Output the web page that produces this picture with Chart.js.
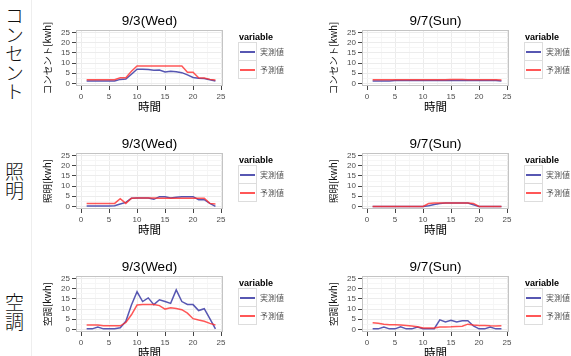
<!DOCTYPE html>
<html>
<head>
<meta charset="utf-8">
<script src="https://cdn.jsdelivr.net/npm/chart.js@4.4.1/dist/chart.umd.min.js"></script>
<style>
  html, body { margin: 0; padding: 0; background: #fff; overflow: hidden; }
  body { width: 571px; height: 356px; position: relative; font-family: "Liberation Sans", Arial, "Noto Sans CJK JP", sans-serif; }
  .sep { position: absolute; left: 31px; top: 0; width: 1px; height: 356px; background: #eeeeee; }
  .rowlabel { position: absolute; left: 4px; width: 20px; writing-mode: vertical-rl; font-family: "Noto Sans CJK JP", sans-serif; font-weight: 300; font-size: 19px; line-height: 20px; color: #111; }
  .panel { position: absolute; width: 250px; height: 123px; }
  .panel canvas { position: absolute; left: 0; top: 0; }
  .legend { position: absolute; left: 203px; top: 32px; }
  .legend .ttl { font: bold 9px "Liberation Sans", Arial, sans-serif; height: 11px; line-height: 11px; margin-left: 1px; color: #000; }
  .legend .item { display: flex; align-items: center; height: 19px; margin-top: -1px; }
  .legend .item:first-of-type { margin-top: 0; }
  .legend .key { width: 19px; height: 19px; box-sizing: border-box; border: 1px solid #dddddd; position: relative; }
  .legend .key span { position: absolute; left: 1px; top: 7.5px; width: 15px; height: 2px; }
  .legend .lbl { margin-left: 3px; font-family: "Noto Sans CJK JP", sans-serif; font-size: 8px; color: #555; }
</style>
</head>
<body>
<div class="sep"></div>
<script>
// 時間 (x) と目盛り
const hours = [1, 2, 3, 4, 5, 6, 7, 8, 9, 10, 11, 12, 13, 14, 15, 16, 17, 18, 19, 20, 21, 22, 23, 24];
const xTicks = [0, 5, 10, 15, 20, 25];
const yTicks = [0, 5, 10, 15, 20, 25];
const seriesNames = ['実測値', '予測値'];
const rowNames = ['コンセント', '照明', '空調'];
const dayTitles = ['9/3(Wed)', '9/7(Sun)'];

// コンセント
const consentWedActual = [1.2, 1.2, 1.2, 1.2, 1.2, 1.2, 2.0, 2.2, 4.5, 7.0, 7.0, 6.8, 6.5, 6.6, 5.6, 6.0, 5.8, 5.3, 4.2, 2.9, 2.5, 2.4, 1.8, 1.2];
const consentWedPredict = [1.8, 1.8, 1.8, 1.8, 1.8, 1.8, 2.8, 2.8, 6.0, 8.6, 8.6, 8.6, 8.6, 8.6, 8.6, 8.6, 8.6, 8.6, 5.5, 5.5, 2.8, 2.7, 2.0, 1.7];
const consentSunActual = [1.2, 1.2, 1.2, 1.2, 1.4, 1.4, 1.4, 1.4, 1.4, 1.4, 1.4, 1.4, 1.4, 1.5, 1.5, 1.5, 1.5, 1.4, 1.4, 1.4, 1.4, 1.4, 1.4, 1.2];
const consentSunPredict = [1.8, 1.8, 1.8, 1.8, 1.8, 1.8, 1.8, 1.8, 1.8, 1.8, 1.8, 1.8, 1.8, 1.8, 1.9, 2.0, 1.9, 1.8, 1.8, 1.8, 1.8, 1.8, 1.8, 1.7];
// 照明
const lightWedActual = [0.2, 0.2, 0.2, 0.2, 0.2, 0.4, 1.2, 2.0, 4.0, 4.2, 4.2, 4.2, 3.5, 4.8, 4.8, 4.2, 4.5, 4.8, 4.8, 4.8, 3.3, 3.3, 1.5, 0.0];
const lightWedPredict = [1.5, 1.5, 1.5, 1.5, 1.5, 1.5, 3.8, 1.5, 4.0, 4.2, 4.2, 4.2, 4.2, 4.0, 4.0, 4.0, 4.0, 4.0, 4.0, 4.0, 4.0, 4.0, 1.5, 1.2];
const lightSunActual = [0, 0, 0, 0, 0, 0, 0, 0, 0, 0, 0.4, 1.0, 1.4, 1.7, 1.7, 1.7, 1.7, 1.7, 0.8, 0, 0, 0, 0, 0];
const lightSunPredict = [0, 0, 0, 0, 0, 0, 0, 0, 0, 0, 1.4, 1.7, 1.7, 1.7, 1.7, 1.7, 1.7, 1.7, 1.5, 0, 0, 0, 0, 0];
// 空調
const acWedActual = [0.3, 0.3, 1.2, 0.3, 0.3, 0.3, 0.8, 4.0, 12.0, 18.5, 13.7, 15.5, 12.2, 14.6, 13.7, 12.8, 19.4, 13.7, 12.3, 12.2, 9.3, 10.2, 5.3, 0.3];
const acWedPredict = [2.2, 2.2, 2.2, 1.8, 1.8, 1.8, 1.8, 3.4, 7.2, 12.0, 12.2, 12.3, 12.2, 11.7, 10.0, 10.6, 10.3, 9.7, 8.0, 5.3, 4.6, 4.0, 3.0, 2.2];
const acSunActual = [0.3, 0.3, 1.2, 0.3, 0.3, 1.3, 0.3, 0.3, 1.2, 0.4, 0.4, 0.4, 4.7, 3.7, 4.5, 3.7, 4.3, 4.3, 1.7, 0.3, 0.3, 1.2, 0.3, 0.3];
const acSunPredict = [3.3, 3.0, 2.6, 2.3, 2.3, 2.2, 2.0, 1.7, 1.3, 0.7, 0.7, 0.7, 1.2, 1.2, 1.3, 1.5, 1.6, 2.6, 2.2, 2.0, 2.0, 1.8, 1.7, 1.8];

const panels = [
  { row: 0, col: 0, actual: consentWedActual, predict: consentWedPredict },
  { row: 0, col: 1, actual: consentSunActual, predict: consentSunPredict },
  { row: 1, col: 0, actual: lightWedActual, predict: lightWedPredict },
  { row: 1, col: 1, actual: lightSunActual, predict: lightSunPredict },
  { row: 2, col: 0, actual: acWedActual, predict: acWedPredict },
  { row: 2, col: 1, actual: acSunActual, predict: acSunPredict }
];

const lineColors = ['rgba(58, 58, 165, 0.85)', 'rgba(255, 45, 45, 0.8)'];

Chart.defaults.font.family = '"Liberation Sans", Arial, "Noto Sans CJK JP", sans-serif';
Chart.defaults.color = '#4d4d4d';

// 補助目盛り(2.5刻み)を主目盛りの間に入れる
function withMinor(ticks) {
  const out = [];
  ticks.forEach((v, i) => {
    out.push(v);
    if (i < ticks.length - 1) out.push((v + ticks[i + 1]) / 2);
  });
  return out;
}
const isMajor = (list, v) => list.includes(v);

// パネル枠
const panelBorder = {
  id: 'panelBorder',
  beforeDatasetsDraw(chart) {
    const { ctx, chartArea: a } = chart;
    ctx.save();
    ctx.strokeStyle = '#c4c4c4';
    ctx.lineWidth = 1;
    ctx.strokeRect(a.left + 0.5, a.top + 0.5, a.width - 1, a.height - 1);
    ctx.restore();
  }
};

// 行ラベル
const rowTops = [6, 162, 293];
rowNames.forEach((name, r) => {
  const d = document.createElement('div');
  d.className = 'rowlabel';
  d.style.top = rowTops[r] + 'px';
  d.textContent = name;
  document.body.appendChild(d);
});

panels.forEach(p => {
  const wrap = document.createElement('div');
  wrap.className = 'panel';
  wrap.style.left = (35 + 286 * p.col) + 'px';
  wrap.style.top = (123 * p.row) + 'px';
  const canvas = document.createElement('canvas');
  canvas.width = 250;
  canvas.height = 123;
  wrap.appendChild(canvas);
  document.body.appendChild(wrap);

  const chart = new Chart(canvas.getContext('2d'), {
    type: 'line',
    data: {
      labels: hours,
      datasets: [
        { label: seriesNames[0], data: p.actual, borderColor: lineColors[0], borderWidth: 1.5, pointRadius: 0, order: 1 },
        { label: seriesNames[1], data: p.predict, borderColor: lineColors[1], borderWidth: 1.5, pointRadius: 0, order: 0 }
      ]
    },
    options: {
      responsive: false,
      animation: false,
      devicePixelRatio: 1,
      layout: { padding: { left: 0, right: 62, top: 0, bottom: 0 } },
      plugins: {
        legend: { display: false },
        tooltip: { enabled: false },
        title: {
          display: true,
          text: dayTitles[p.col],
          fullSize: false,
          color: '#000',
          font: { size: 13.5, weight: 'normal', lineHeight: 1 },
          padding: { top: 15, bottom: 1.5 }
        }
      },
      scales: {
        x: {
          type: 'linear',
          min: -0.9,
          max: 25.35,
          afterBuildTicks: s => { s.ticks = withMinor(xTicks).map(v => ({ value: v })); },
          afterFit: s => { s.height = 37; },
          ticks: {
            autoSkip: false, maxRotation: 0, padding: 2,
            font: { size: 8 }, color: '#4d4d4d',
            callback: v => isMajor(xTicks, v) ? String(v) : ''
          },
          grid: {
            tickLength: 4,
            color: c => isMajor(xTicks, c.tick.value) ? '#ececec' : '#f6f6f6',
            tickColor: c => isMajor(xTicks, c.tick.value) ? '#444' : 'rgba(0,0,0,0)'
          },
          border: { display: false },
          title: {
            display: true, text: '時間', color: '#000',
            font: { family: '"Noto Sans CJK JP", sans-serif', size: 11.5, lineHeight: 1 },
            padding: { top: 0, bottom: 10.5 }
          }
        },
        y: {
          min: -1.25,
          max: 26.25,
          afterBuildTicks: s => { s.ticks = withMinor(yTicks).map(v => ({ value: v })); },
          afterFit: s => { s.width = 41; },
          ticks: {
            autoSkip: false, padding: 2,
            font: { size: 8 }, color: '#4d4d4d',
            callback: v => isMajor(yTicks, v) ? String(v) : ''
          },
          grid: {
            tickLength: 4,
            color: c => isMajor(yTicks, c.tick.value) ? '#ececec' : '#f6f6f6',
            tickColor: c => isMajor(yTicks, c.tick.value) ? '#444' : 'rgba(0,0,0,0)'
          },
          border: { display: false },
          title: {
            display: true, text: rowNames[p.row] + '[kwh]', color: '#111',
            font: { family: '"Noto Sans CJK JP", sans-serif', size: 9.5, lineHeight: 1 },
            padding: { top: 7.5, bottom: 0 }
          }
        }
      }
    },
    plugins: [panelBorder]
  });

  // 凡例 (HTML)
  const lg = document.createElement('div');
  lg.className = 'legend';
  const ttl = document.createElement('div');
  ttl.className = 'ttl';
  ttl.textContent = 'variable';
  lg.appendChild(ttl);
  chart.data.datasets.forEach(ds => {
    const item = document.createElement('div');
    item.className = 'item';
    const key = document.createElement('div');
    key.className = 'key';
    const ln = document.createElement('span');
    ln.style.background = ds.borderColor;
    key.appendChild(ln);
    const lbl = document.createElement('div');
    lbl.className = 'lbl';
    lbl.textContent = ds.label;
    item.appendChild(key);
    item.appendChild(lbl);
    lg.appendChild(item);
  });
  wrap.appendChild(lg);
});
</script>
</body>
</html>
